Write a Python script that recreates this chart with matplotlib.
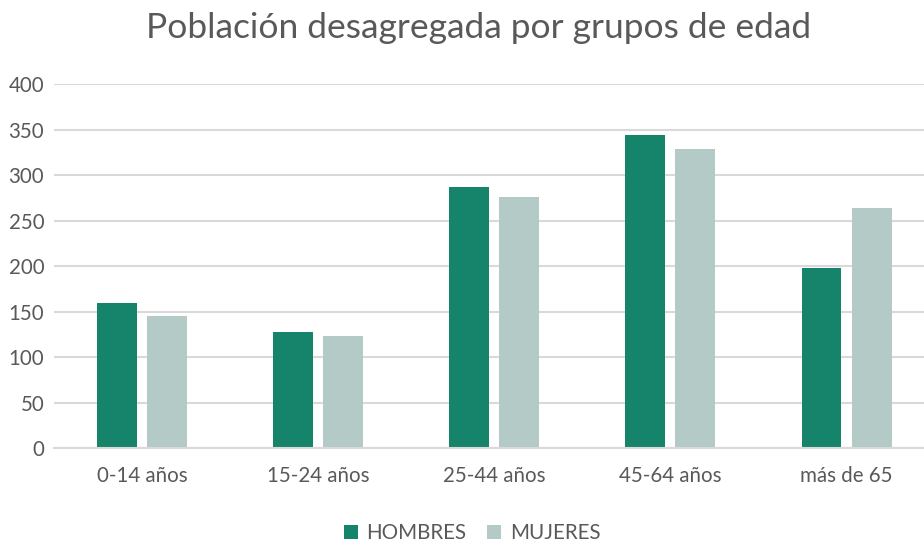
import matplotlib.pyplot as plt
import numpy as np

# datos de población por grupos de edad
grupos = ['0-14 años', '15-24 años', '25-44 años', '45-64 años', 'más de 65']
hombres = [159, 128, 287, 344, 198]
mujeres = [145, 123, 276, 329, 264]
ticks_y = [0, 50, 100, 150, 200, 250, 300, 350, 400]

plt.rcParams['font.family'] = ['Lato', 'DejaVu Sans']
gris = '#595959'

fig = plt.figure(figsize=(9.24, 5.42), dpi=100)
ax = fig.add_axes([54 / 924, 93.7 / 542, 870 / 924, 364.3 / 542])

x = np.arange(len(grupos))
ancho = 0.227
ax.bar(x - 0.142, hombres, ancho, color='#16846A', label='HOMBRES')
ax.bar(x + 0.142, mujeres, ancho, color='#B3CAC6', label='MUJERES')

ax.set_xlim(-0.5, 4.44)
ax.set_ylim(0, 400)
ax.set_yticks(ticks_y)
ax.set_xticks(x)
ax.set_xticklabels(grupos)
ax.yaxis.grid(True, color='#D9D9D9', linewidth=1.5)
ax.set_axisbelow(True)
for lado in ['top', 'right', 'left']:
    ax.spines[lado].set_visible(False)
ax.spines['bottom'].set_color('#D9D9D9')
ax.spines['bottom'].set_linewidth(1.5)
ax.tick_params(axis='both', length=0, colors=gris, labelsize=14.8)
ax.tick_params(axis='x', pad=13)
ax.tick_params(axis='y', pad=7)

fig.text(479 / 924, 1 - 28 / 542, 'Población desagregada por grupos de edad',
         ha='center', va='center', fontsize=25.5, color=gris)

fig.legend(loc='center', bbox_to_anchor=(472 / 924, 1 - 533 / 542), ncol=2,
           frameon=False, fontsize=14.8, labelcolor=gris, handlelength=0.7,
           handleheight=0.7, handletextpad=0.4, columnspacing=1.0)

fig.savefig('out.png', dpi=100)
